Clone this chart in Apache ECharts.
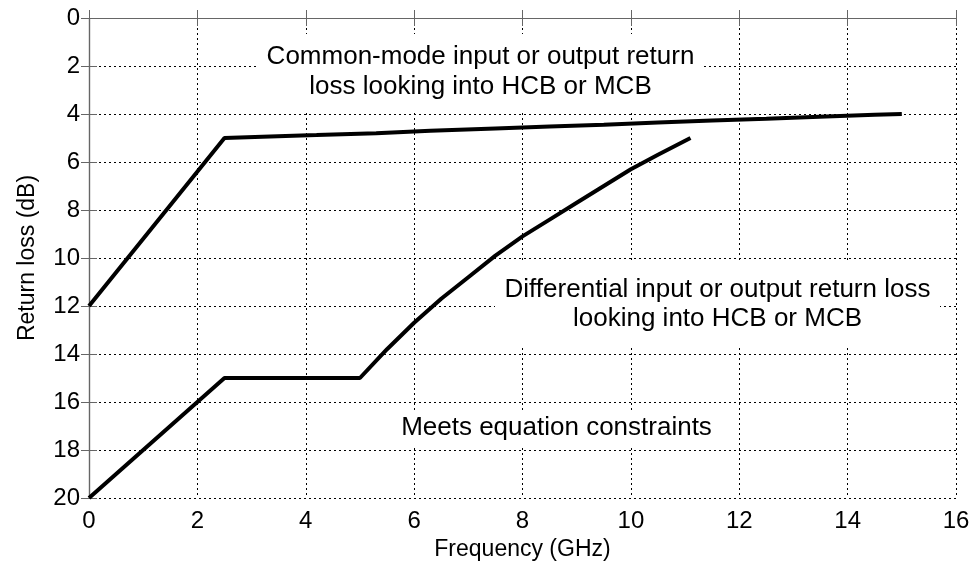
<!DOCTYPE html>
<html>
<head>
<meta charset="utf-8">
<script src="https://cdn.jsdelivr.net/npm/echarts@6/dist/echarts.min.js"></script>
<style>
  html, body { margin: 0; padding: 0; background: #fff; }
  #main { width: 974px; height: 573px; }
</style>
</head>
<body>
<div id="main"></div>
<script>
// frequency (GHz) / return loss (dB)
var commonFreq = [0, 2.5, 3.2, 4.2, 5.3, 6.3, 7.5, 8.5, 9.5, 10.5, 11.5, 12.5, 13.6, 14.5, 15];
var commonLoss = [12, 5, 4.95, 4.88, 4.8, 4.7, 4.6, 4.52, 4.45, 4.35, 4.27, 4.2, 4.1, 4.03, 4];

var diffFreq = [0, 2.5, 5, 5.5, 6, 6.5, 7, 7.5, 8, 8.5, 9, 9.5, 10, 10.5, 11.1];
var diffLoss = [20, 15, 15, 13.8, 12.7, 11.7, 10.8, 9.9, 9.1, 8.4, 7.7, 7.0, 6.3, 5.7, 5.0];

var xTicks = [0, 2, 4, 6, 8, 10, 12, 14, 16];
var yTicks = [0, 2, 4, 6, 8, 10, 12, 14, 16, 18, 20];

var font = "Liberation Sans, Arial, sans-serif";

function pairs(xs, ys) {
  return xs.map(function (x, i) { return [x, ys[i]]; });
}

// white box behind a note, then the note centred on it
function note(x, y, w, h, text, lh) {
  return [
    { type: "rect", z: 1, shape: { x: x, y: y, width: w, height: h }, style: { fill: "#fff" } },
    {
      type: "text", z: 1, x: x + w / 2, y: y + h / 2,
      style: {
        text: text, fill: "#000", font: "26px " + font,
        align: "center", verticalAlign: "middle", lineHeight: lh
      }
    }
  ];
}

var myChart = echarts.init(document.getElementById("main"));

var gridLine = { show: true, lineStyle: { color: "#000", width: 1, type: [2, 3] } };
var boxLine = { show: true, lineStyle: { color: "#666", width: 1.2 } };
var tick = { show: true, inside: true, length: 8, lineStyle: { color: "#666" } };

myChart.setOption({
  animation: false,
  backgroundColor: "#fff",
  grid: { left: 89, right: 18, top: 18, bottom: 75 },
  xAxis: [
    {
      type: "value",
      min: xTicks[0],
      max: xTicks[xTicks.length - 1],
      interval: 2,
      name: "Frequency (GHz)",
      nameLocation: "middle",
      nameGap: 40,
      nameTextStyle: { color: "#000", fontSize: 23, fontFamily: font },
      axisLine: boxLine,
      axisTick: tick,
      axisLabel: { color: "#000", fontSize: 24, fontFamily: font, margin: 11 },
      splitLine: gridLine
    },
    {
      type: "value", position: "top", min: 0, max: 16, interval: 2,
      axisLine: boxLine, axisTick: tick,
      axisLabel: { show: false }, splitLine: { show: false }
    }
  ],
  yAxis: [
    {
      type: "value",
      inverse: true,
      min: yTicks[0],
      max: yTicks[yTicks.length - 1],
      interval: 2,
      name: "Return loss (dB)",
      nameLocation: "middle",
      nameGap: 50,
      nameTextStyle: { color: "#000", fontSize: 23, fontFamily: font },
      axisLine: boxLine,
      axisTick: tick,
      axisLabel: { color: "#000", fontSize: 24, fontFamily: font, margin: 9 },
      splitLine: gridLine
    },
    {
      type: "value", position: "right", inverse: true, min: 0, max: 20, interval: 2,
      axisLine: boxLine, axisTick: tick,
      axisLabel: { show: false }, splitLine: { show: false }
    }
  ],
  graphic: [].concat(
    note(258, 34, 445, 76, "Common-mode input or output return\nloss looking into HCB or MCB", 30),
    note(495, 262, 445, 85, "Differential input or output return loss\nlooking into HCB or MCB", 29),
    note(393, 410, 327, 36, "Meets equation constraints", 30)
  ),
  series: [
    {
      name: "Common-mode",
      type: "line",
      data: pairs(commonFreq, commonLoss),
      showSymbol: false,
      z: 3,
      lineStyle: { color: "#000", width: 4 }
    },
    {
      name: "Differential",
      type: "line",
      data: pairs(diffFreq, diffLoss),
      showSymbol: false,
      z: 3,
      lineStyle: { color: "#000", width: 4 }
    }
  ]
});
</script>
</body>
</html>
